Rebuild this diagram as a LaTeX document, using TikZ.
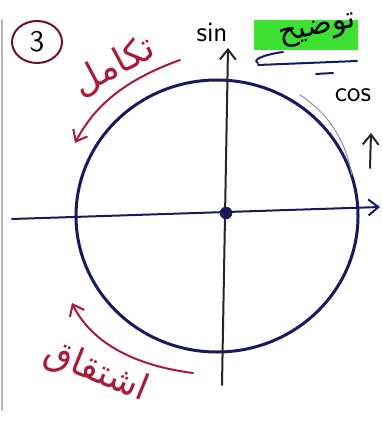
\documentclass[tikz,border=0pt]{standalone}
\usepackage{fontspec}
\usepackage{tikz}
\usetikzlibrary{arrows.meta,shapes.geometric}
\newfontfamily\arabicfont[Script=Arabic]{DejaVu Sans}
\TeXXeTstate=1
\definecolor{inkblue}{RGB}{25,25,95}
\definecolor{inkred}{RGB}{170,25,55}
\definecolor{inkmaroon}{RGB}{110,15,40}
\definecolor{marker}{RGB}{60,225,50}

\begin{document}
\begin{tikzpicture}[x=0.5pt, y=-0.5pt, line cap=round,
  hand/.style={inner sep=0pt, font=\sffamily\fontsize{14}{14}\selectfont},
  farsi/.style={inner sep=0pt, text=inkred, font=\arabicfont\fontsize{18}{18}\selectfont},
  barb/.style={-{Straight Barb[length=5pt, width=8pt]}}]
  \useasboundingbox[fill=white] (0,0) rectangle (382,427);
  \draw[gray!60, line width=0.8pt] (2,20) -- (2,410);

  % Unit circle
  \draw[inkblue, line width=1.5pt] (217,216) ellipse [x radius=141, y radius=136];
  \draw[inkblue!50, line width=0.5pt] (300,95) .. controls (330,115) and (345,140) .. (352,175);

  % Axes
  \coordinate (xstart) at (12,219);
  \coordinate (xend) at (380,207);
  \coordinate (ystart) at (222,385);
  \coordinate (yend) at (228,48);
  \draw[inkblue, line width=1pt, barb] (xstart) -- (xend);
  \draw[black!85, line width=1pt, barb] (ystart) -- (yend);
  \node[circle, fill=inkblue, inner sep=2.2pt] (O) at (226,213) {};

  % Axis labels
  \node[hand] (sin) at (212,32) {sin};
  \node[hand] (cos) at (353,95) {cos};
  \coordinate (upstart) at (370,168);
  \coordinate (upend) at (371,133);
  \draw[black!85, line width=1pt, barb] (upstart) -- (upend);

  % Problem number
  \node[ellipse, draw=inkmaroon, line width=1pt, minimum width=25pt, minimum height=21pt, inner sep=0pt,
        font=\sffamily\fontsize{15}{15}\selectfont] (num) at (37,42) {3};

  % Highlighted note
  \fill[marker] (254,20) rectangle (358,50);
  \node[inner sep=0pt, font=\arabicfont\fontsize{15}{15}\selectfont, rotate=12] (note) at (318,31) {\beginR توضیح\endR};
  \draw[inkblue, line width=1pt] (283,52) .. controls (262,55) and (252,60) .. (258,63);
  \draw[inkblue, line width=1pt] (258,65) -- (357,61);
  \draw[inkblue, line width=1pt] (316,74) -- (333,73);

  % Integration / derivation arrows
  \coordinate (topstart) at (180,60);
  \coordinate (topend) at (75,143);
  \coordinate (botstart) at (193,373);
  \coordinate (botend) at (72,303);
  \draw[inkred, line width=1pt, barb] (topstart) .. controls (125,80) and (95,105) .. (topend);
  \draw[inkred, line width=1pt, barb] (botstart) .. controls (130,365) and (90,340) .. (botend);
  \node[farsi, rotate=28] (integ) at (114,66) {\beginR تکامل\endR};
  \node[farsi, rotate=-22] (deriv) at (96,372) {\beginR اشتقاق\endR};
\end{tikzpicture}
\end{document}
